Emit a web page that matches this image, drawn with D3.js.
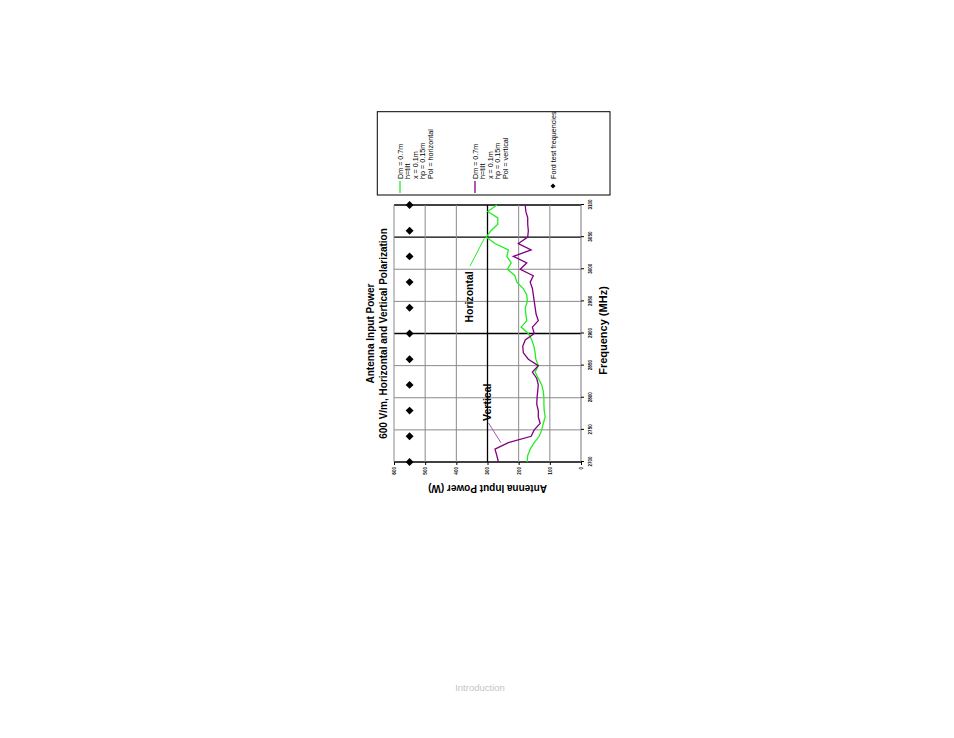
<!DOCTYPE html>
<html><head><meta charset="utf-8">
<script src="https://cdn.jsdelivr.net/npm/d3@7"></script>
<style>body{margin:0;background:#fff}svg{display:block}</style>
</head><body>
<svg id="c" width="954" height="738"></svg>
<script>
// ---------- data ----------
const frequencies = [2700,2710,2720,2730,2740,2750,2760,2770,2780,2790,2800,2810,2820,2830,2840,2850,2860,2870,2880,2890,2900,2910,2920,2930,2940,2950,2960,2970,2980,2990,3000,3010,3020,3030,3040,3050,3060,3070,3080,3090,3100];
const horizontalPower = [173,171,163,150,134,126,121,115,118,119,119,121,126,137,147,137,145,147,151,158,169,192,174,177,179,172,174,185,206,212,236,224,238,233,276,304,289,267,267,299,270];
const verticalPower = [265,270,276,233,160,150,131,137,137,142,141,139,137,142,156,137,169,185,187,179,150,156,137,144,147,150,153,156,163,153,195,174,217,160,201,171,169,171,171,177,179];
const fordTestFrequencies = [2700,2740,2780,2820,2860,2900,2940,2980,3020,3060,3100];
const fordTestPower = 550;
const freqTicks = [2700,2750,2800,2850,2900,2950,3000,3050,3100];
const powerTicks = [0,100,200,300,400,500,600];
const titleLines = ["Antenna Input Power","600 V/m, Horizontal and Vertical Polarization"];
const xLabel = "Frequency (MHz)";
const yLabel = "Antenna Input Power (W)";
const legendHorizontal = ["Dm = 0.7m","h=tilt","x = 0.1m","hp = 0.15m","Pol = horizontal"];
const legendVertical = ["Dm = 0.7m","h=tilt","x = 0.1m","hp = 0.15m","Pol = vertical"];
const legendFord = "Ford test frequencies";
const annotationLabels = ["Horizontal","Vertical"];
const annotationAt = [[2957,348],[2793,289]];
const leaderFrom = [[3005,356],[2761,297]];
const leaderTo = [[3048,310],[2730,257]];
const footer = "Introduction";

// ---------- drawing ----------
const FONT = "'Liberation Sans', Arial, Helvetica, sans-serif";
const GREEN = "#22ee22", PURPLE = "#800080", PURPLE_LIGHT = "#a855b0";
const svg = d3.select("#c");
svg.append("rect").attr("width",954).attr("height",738).attr("fill","#fff");

// whole chart is rotated -90 degrees
const g = svg.append("g").attr("transform","translate(0,738) rotate(-90)");

const x = d3.scaleLinear().domain([2700,3100]).range([276,533]);
const y = d3.scaleLinear().domain([0,600]).range([581,394]);

const darkFreq = new Set([2700,2900,3050,3100]);
const darkPow = new Set([0,300]);

// grid
g.append("g").selectAll("line").data(freqTicks).join("line")
  .attr("x1",d=>x(d)).attr("x2",d=>x(d)).attr("y1",y(600)).attr("y2",y(0))
  .attr("stroke",d=>darkFreq.has(d)?"#000":"#8a8a8a")
  .attr("stroke-width",d=>darkFreq.has(d)?1.3:1);
g.append("g").selectAll("line").data(powerTicks).join("line")
  .attr("y1",d=>y(d)).attr("y2",d=>y(d)).attr("x1",x(2700)).attr("x2",x(3100))
  .attr("stroke",d=>d===0?"#777":(darkPow.has(d)?"#000":"#8a8a8a"))
  .attr("stroke-width",d=>darkPow.has(d)&&d!==0?1.3:1);

// axes
const xAxis = g.append("g").attr("transform",`translate(0,${y(0)})`)
  .call(d3.axisBottom(x).tickValues(freqTicks).tickSize(3).tickPadding(5).tickFormat(d3.format("d")));
const yAxis = g.append("g").attr("transform",`translate(${x(2700)},0)`)
  .call(d3.axisLeft(y).tickValues(powerTicks).tickSize(3).tickPadding(2).tickFormat(d3.format("d")));
[xAxis,yAxis].forEach(a=>{
  a.select(".domain").remove();
  a.selectAll(".tick line").attr("stroke","#000");
  a.selectAll("text").attr("font-family",FONT).attr("font-size",4.6).attr("font-weight","bold").attr("fill","#000");
});

// series
const line = d3.line().x(d=>x(d[0])).y(d=>y(d[1]));
const hData = frequencies.map((f,i)=>[f,horizontalPower[i]]);
const vData = frequencies.map((f,i)=>[f,verticalPower[i]]);
g.append("path").datum(hData).attr("d",line).attr("fill","none").attr("stroke",GREEN).attr("stroke-width",1.3);
g.append("path").datum(vData).attr("d",line).attr("fill","none").attr("stroke",PURPLE).attr("stroke-width",1.3);

// Ford test frequency markers
const diamond = d3.symbol().type(d3.symbolDiamond2 || d3.symbolDiamond).size(40);
g.append("g").selectAll("path").data(fordTestFrequencies).join("path")
  .attr("d",diamond).attr("transform",d=>`translate(${x(d)},${y(fordTestPower)})`).attr("fill","#000");

// annotations
const annColors = [GREEN, PURPLE_LIGHT];
annotationLabels.forEach((t,i)=>{
  g.append("line")
    .attr("x1",x(leaderFrom[i][0])).attr("y1",y(leaderFrom[i][1]))
    .attr("x2",x(leaderTo[i][0])).attr("y2",y(leaderTo[i][1]))
    .attr("stroke",annColors[i]).attr("stroke-width",1);
  g.append("text").attr("x",x(annotationAt[i][0])).attr("y",y(annotationAt[i][1]))
    .attr("text-anchor","middle").attr("font-family",FONT).attr("font-size",10.5).attr("font-weight","bold")
    .attr("fill","#000").text(t);
});

// titles
const cx = (x(2700)+x(3100))/2;
g.append("text").attr("x",cx).attr("y",373.5).attr("text-anchor","middle")
  .attr("font-family",FONT).attr("font-size",10).attr("font-weight","bold").text(titleLines[0]);
g.append("text").attr("x",cx).attr("y",387).attr("text-anchor","middle")
  .attr("font-family",FONT).attr("font-size",10).attr("font-weight","bold").text(titleLines[1]);
g.append("text").attr("x",cx+3).attr("y",607).attr("text-anchor","middle")
  .attr("font-family",FONT).attr("font-size",11).attr("font-weight","bold").text(xLabel);
g.append("text").attr("transform",`translate(253,${(y(0)+y(600))/2}) rotate(-90)`).attr("text-anchor","middle")
  .attr("font-family",FONT).attr("font-size",10).attr("font-weight","bold").text(yLabel);

// legend
const lg = g.append("g");
lg.append("rect").attr("x",543).attr("y",377.3).attr("width",83.3).attr("height",232.7)
  .attr("fill","#fff").attr("stroke","#000").attr("stroke-width",1);
function legendBlock(lines,color,y0){
  lg.append("line").attr("x1",545).attr("x2",557).attr("y1",y0).attr("y2",y0).attr("stroke",color).attr("stroke-width",1.3);
  lines.forEach((t,i)=>{
    lg.append("text").attr("x",559).attr("y",y0+2.5+i*7.6).attr("font-family",FONT).attr("font-size",7.2).attr("fill","#000").text(t);
  });
}
legendBlock(legendHorizontal,GREEN,400);
legendBlock(legendVertical,PURPLE,475);
lg.append("path").attr("d",d3.symbol().type(d3.symbolDiamond2 || d3.symbolDiamond).size(16))
  .attr("transform","translate(552,553)").attr("fill","#000");
lg.append("text").attr("x",559).attr("y",555.5).attr("font-family",FONT).attr("font-size",7.2).attr("fill","#000").text(legendFord);

// footer (not rotated)
svg.append("text").attr("x",480).attr("y",691).attr("text-anchor","middle")
  .attr("font-family",FONT).attr("font-size",9.5).attr("fill","#c4c4c4").text(footer);
</script>
</body></html>
